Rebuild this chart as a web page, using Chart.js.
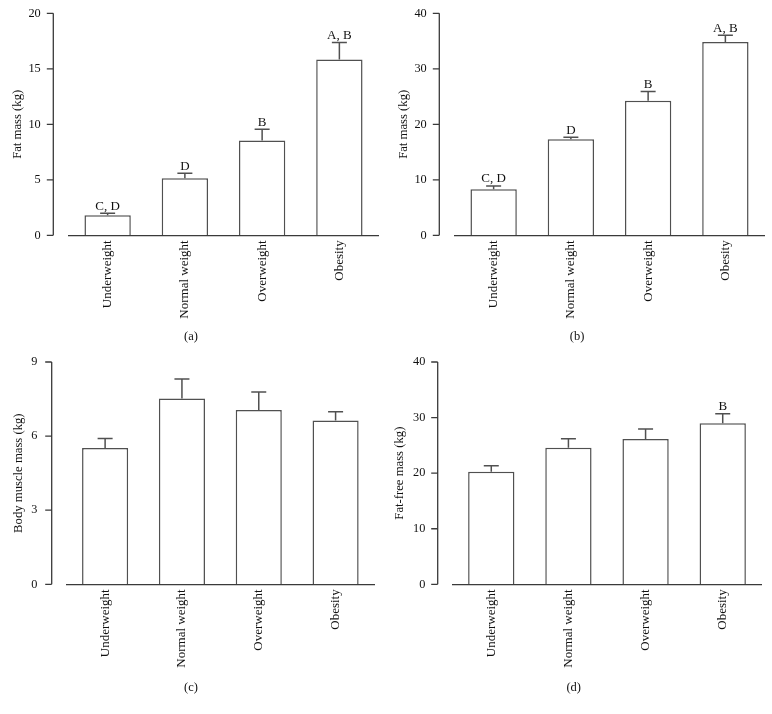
<!DOCTYPE html>
<html>
<head>
<meta charset="utf-8">
<script src="https://cdn.jsdelivr.net/npm/chart.js@4/dist/chart.umd.min.js"></script>
<style>
html,body{margin:0;padding:0;background:#ffffff;}
#wrap{position:relative;width:772px;height:714px;overflow:hidden;background:#fff;}
canvas{position:absolute;display:block;}
</style>
</head>
<body>
<div id="wrap">
<canvas id="pa"></canvas>
<canvas id="pb"></canvas>
<canvas id="pc"></canvas>
<canvas id="pd"></canvas>
</div>
<script>
// ---------- data ----------
const categories = ['Underweight', 'Normal weight', 'Overweight', 'Obesity'];

const fatMassA      = [1.80, 5.15, 8.53, 15.83];
const fatMassAErr   = [0.18, 0.44, 1.02, 1.53];
const fatMassALetters = ['C, D', 'D', 'B', 'A, B'];

const fatMassB      = [8.29, 17.30, 24.26, 34.83];
const fatMassBErr   = [0.60, 0.36, 1.63, 1.21];
const fatMassBLetters = ['C, D', 'D', 'B', 'A, B'];

const muscleC       = [5.52, 7.52, 7.06, 6.63];
const muscleCErr    = [0.38, 0.79, 0.73, 0.36];
const muscleCLetters = ['', '', '', ''];

const fatFreeD      = [20.27, 24.59, 26.15, 28.97];
const fatFreeDErr   = [1.08, 1.62, 1.80, 1.73];
const fatFreeDLetters = ['', '', '', 'B'];

const yTicksA = [0, 5, 10, 15, 20];
const yTicksB = [0, 10, 20, 30, 40];
const yTicksC = [0, 3, 6, 9];
const yTicksD = [0, 10, 20, 30, 40];

// ---------- style ----------
const FONT = "'Liberation Serif', 'Times New Roman', serif";
const AXIS = '#3a3a3a';
const BARLINE = '#505050';
const TEXT = '#111111';

function makePlugin(values, errors, letters, g, panelLabel) {
  return {
    id: 'errbars',
    afterDatasetsDraw(chart) {
      const meta = chart.getDatasetMeta(0);
      const y = chart.scales.y;
      const ctx = chart.ctx;
      ctx.save();
      ctx.strokeStyle = BARLINE;
      ctx.lineWidth = 1.5;
      meta.data.forEach((bar, i) => {
        const y0 = y.getPixelForValue(values[i]);
        const y1 = y.getPixelForValue(values[i] + errors[i]);
        ctx.beginPath();
        ctx.moveTo(bar.x, y0);
        ctx.lineTo(bar.x, y1);
        ctx.moveTo(bar.x - 7.5, y1);
        ctx.lineTo(bar.x + 7.5, y1);
        ctx.stroke();
        if (letters[i]) {
          ctx.fillStyle = TEXT;
          ctx.font = '13px ' + FONT;
          ctx.textAlign = 'center';
          ctx.textBaseline = 'alphabetic';
          ctx.fillText(letters[i], bar.x, y1 - 3.5);
        }
      });
      // detached y axis line with outward ticks
      const xa = chart.chartArea.left - g.axisGap;
      ctx.strokeStyle = AXIS;
      ctx.lineWidth = 1.3;
      ctx.beginPath();
      ctx.moveTo(xa, y.getPixelForValue(y.max));
      ctx.lineTo(xa, y.getPixelForValue(y.min));
      y.ticks.forEach(t => {
        const py = y.getPixelForValue(t.value);
        ctx.moveTo(xa - 6.5, py);
        ctx.lineTo(xa, py);
      });
      ctx.stroke();
      // panel label
      ctx.fillStyle = TEXT;
      ctx.font = '12.5px ' + FONT;
      ctx.textAlign = 'center';
      ctx.textBaseline = 'middle';
      ctx.fillText(panelLabel, g.labelX, g.labelY);
      ctx.restore();
    }
  };
}

function makeChart(id, g, values, errors, letters, yTicks, yTitle, panelLabel) {
  const cv = document.getElementById(id);
  cv.width = g.W; cv.height = g.H;
  cv.style.left = g.left + 'px';
  cv.style.top = g.top + 'px';
  cv.style.width = g.W + 'px';
  cv.style.height = g.H + 'px';
  const yMax = yTicks[yTicks.length - 1];
  return new Chart(cv, {
    type: 'bar',
    data: {
      labels: categories,
      datasets: [{
        data: values,
        backgroundColor: '#ffffff',
        borderColor: BARLINE,
        borderWidth: 1.5,
        borderSkipped: 'bottom',
        barPercentage: 0.6,
        categoryPercentage: 1.0
      }]
    },
    options: {
      responsive: false,
      animation: false,
      devicePixelRatio: 1,
      layout: { padding: { left: g.padL, right: g.padR, top: g.padT, bottom: g.padB } },
      plugins: {
        legend: { display: false },
        tooltip: { enabled: false },
        title: { display: false }
      },
      scales: {
        x: {
          grid: { display: false, drawTicks: false },
          border: { display: true, color: AXIS, width: 1.3 },
          ticks: {
            color: TEXT,
            font: { family: FONT, size: 13 },
            minRotation: 90,
            maxRotation: 90,
            autoSkip: false,
            padding: 5
          },
          afterFit(scale) {
            scale.height = g.xH;
            scale.paddingLeft = 0; scale.paddingRight = 0;
          }
        },
        y: {
          min: 0,
          max: yMax,
          afterBuildTicks(scale) { scale.ticks = yTicks.map(v => ({ value: v })); },
          grid: { display: false, drawTicks: false },
          border: { display: false },
          ticks: {
            color: TEXT,
            font: { family: FONT, size: 12.3 },
            padding: g.tickPad
          },
          title: {
            display: true,
            text: yTitle,
            color: TEXT,
            font: { family: FONT, size: 12.7, weight: 'normal', lineHeight: 1.2 },
            padding: { top: g.titlePad, bottom: 0 }
          },
          afterFit(scale) {
            scale.width = g.chartLeft - g.padL;
            scale.paddingTop = 0; scale.paddingBottom = 0;
          }
        }
      }
    },
    plugins: [makePlugin(values, errors, letters, g, panelLabel)]
  });
}

const geomA = { left: 0,   top: 0,   W: 386, H: 345, padL: 4, padR: 8,    padT: 13.3, padB: 2, xH: 107.7, chartLeft: 69,   axisGap: 15.7, tickPad: 28.3, titlePad: 6,   labelX: 191,   labelY: 337 };
const geomB = { left: 386, top: 0,   W: 386, H: 345, padL: 4, padR: 8,    padT: 13.3, padB: 2, xH: 107.7, chartLeft: 69,   axisGap: 15.7, tickPad: 28.3, titlePad: 6,   labelX: 191,   labelY: 337 };
const geomC = { left: 0,   top: 345, W: 386, H: 369, padL: 8, padR: 12,   padT: 17,   padB: 2, xH: 127.7, chartLeft: 66.7, axisGap: 15,   tickPad: 29.4, titlePad: 3.5, labelX: 191,   labelY: 343 };
const geomD = { left: 386, top: 345, W: 386, H: 369, padL: 0, padR: 10.7, padT: 17,   padB: 2, xH: 127.7, chartLeft: 66.7, axisGap: 15,   tickPad: 27.4, titlePad: 5.7, labelX: 187.7, labelY: 343 };

makeChart('pa', geomA, fatMassA, fatMassAErr, fatMassALetters, yTicksA, 'Fat mass (kg)', '(a)');
makeChart('pb', geomB, fatMassB, fatMassBErr, fatMassBLetters, yTicksB, 'Fat mass (kg)', '(b)');
makeChart('pc', geomC, muscleC, muscleCErr, muscleCLetters, yTicksC, 'Body muscle mass (kg)', '(c)');
makeChart('pd', geomD, fatFreeD, fatFreeDErr, fatFreeDLetters, yTicksD, 'Fat-free mass (kg)', '(d)');
</script>
</body>
</html>
